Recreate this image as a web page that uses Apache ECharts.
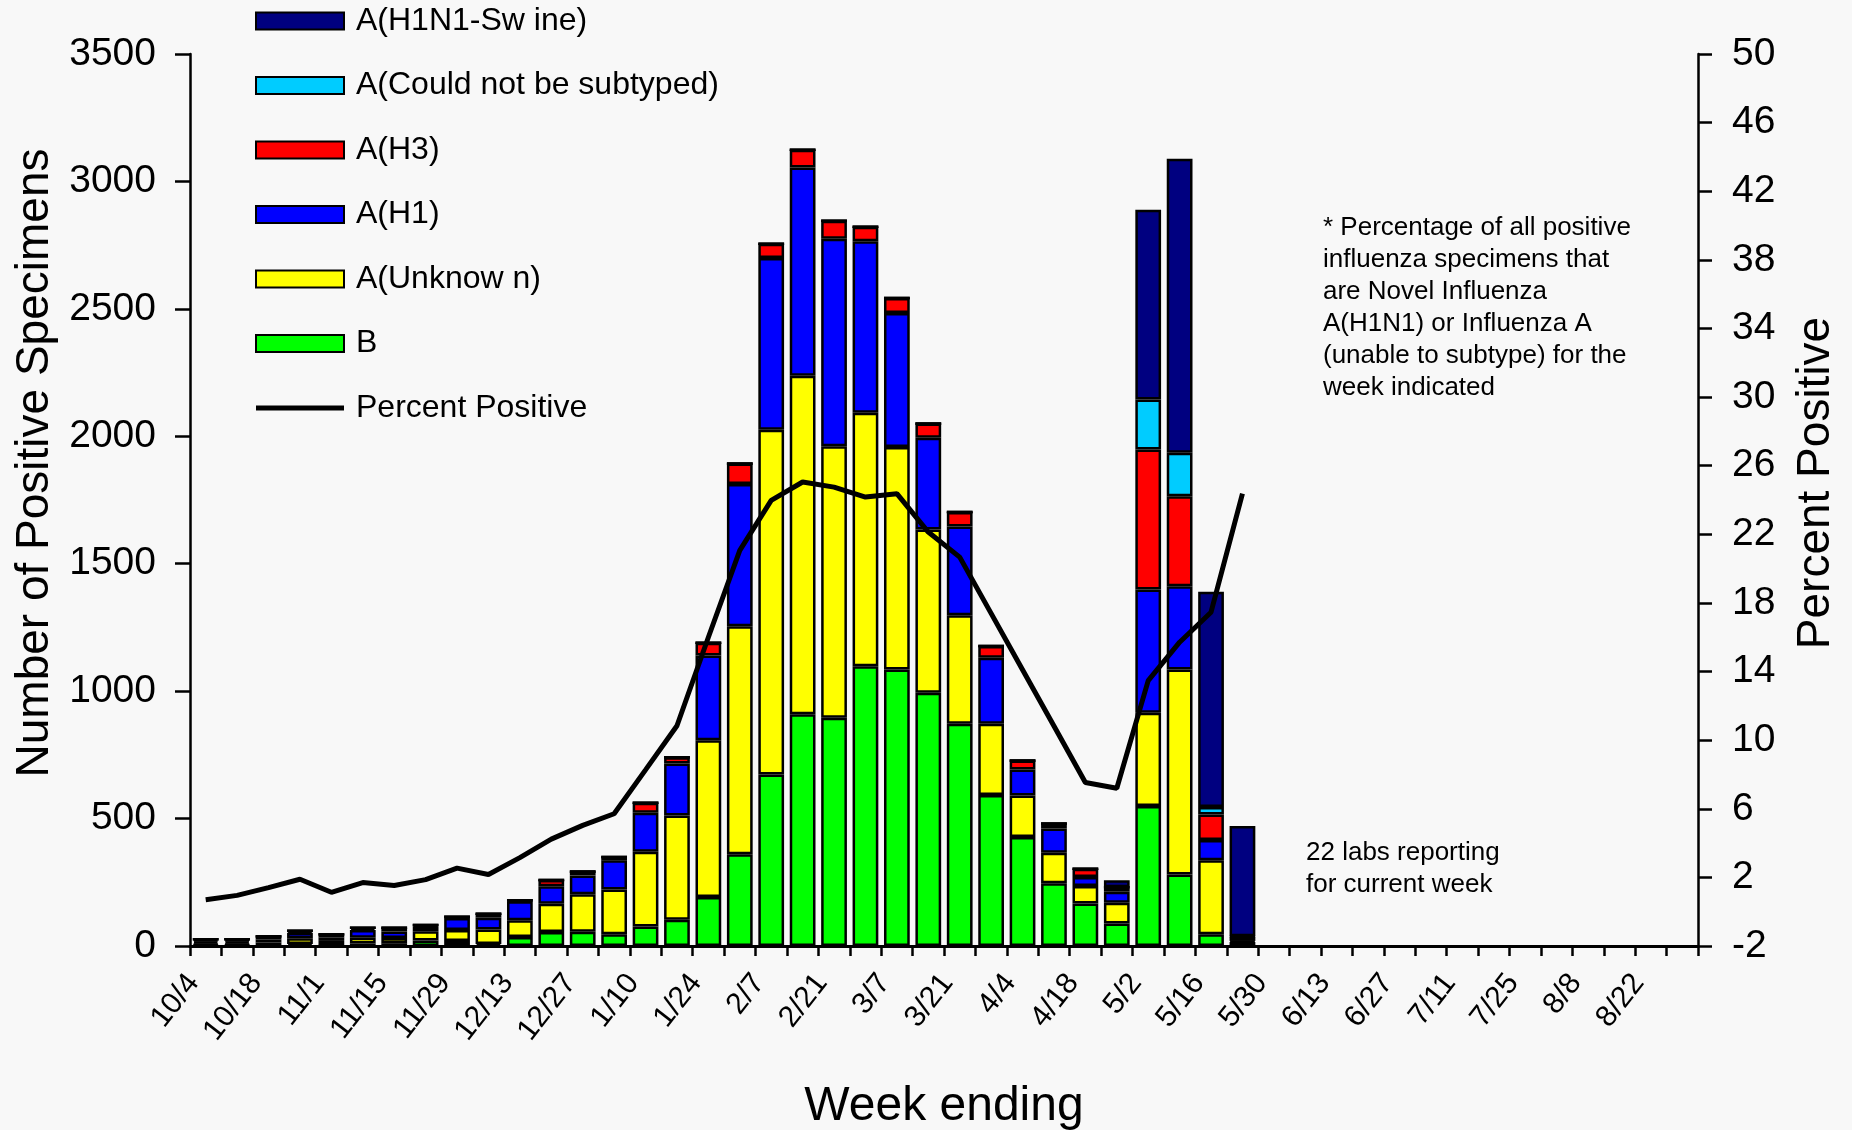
<!DOCTYPE html>
<html>
<head>
<meta charset="utf-8">
<script src="https://cdn.jsdelivr.net/npm/echarts@6/dist/echarts.min.js"></script>
<style>
html,body{margin:0;padding:0;background:#f8f8f8;}
#chart{width:1852px;height:1130px;}
</style>
</head>
<body>
<div id="chart"></div>
<script>
// Week-ending categories (tick labels shown every other week)
var weeks = ['10/4','10/11','10/18','10/25','11/1','11/8','11/15','11/22','11/29','12/6','12/13','12/20','12/27',
  '1/3','1/10','1/17','1/24','1/31','2/7','2/14','2/21','2/28','3/7','3/14','3/21','3/28','4/4','4/11','4/18','4/25',
  '5/2','5/9','5/16','5/23','5/30','6/6','6/13','6/20','6/27','7/4','7/11','7/18','7/25','8/1','8/8','8/15','8/22','8/29'];

// Series values (number of positive specimens), stacked bottom to top
var valB       = [3,3,4,8,3,10,11,22,20,8,35,55,56,46,77,103,192,360,673,909,896,1098,1085,994,872,592,428,246,167,88,549,281,46,2];
var valUnknown = [6,6,10,22,17,22,20,36,43,57,66,111,147,176,293,409,615,895,1353,1329,1065,994,873,640,426,280,163,120,68,82,366,804,290,14];
var valH1      = [9,9,12,22,14,31,26,19,47,46,75,68,74,114,153,204,333,558,674,817,814,673,526,360,348,259,102,95,36,43,484,327,80,4];
var valH3      = [8,8,12,8,12,9,15,5,5,16,4,25,15,13,39,25,50,80,55,69,71,57,59,56,57,46,35,20,32,18,549,353,100,16];
var valNoSub   = [0,0,0,0,0,0,0,0,0,0,0,0,0,0,0,0,0,0,0,0,0,0,0,0,0,0,0,0,0,0,196,170,29,2];
var valSwine   = [0,0,0,0,0,0,0,0,0,0,0,0,0,0,0,0,0,0,0,0,0,0,0,0,0,0,0,0,0,27,745,1154,845,433];

// Percent positive (right axis)
var pctPositive = [0.7,0.95,1.4,1.89,1.13,1.7,1.53,1.87,2.54,2.17,3.15,4.23,5.03,5.71,8.27,10.84,16.0,21.06,23.98,25.05,
  24.75,24.17,24.37,22.13,20.67,17.39,14.1,10.82,7.53,7.2,13.47,15.71,17.46,24.37];

// Right-axis tick values
var pctTicks = [-2,2,6,10,14,18,22,26,30,34,38,42,46,50];

var noteText = ['* Percentage of all positive','influenza specimens that','are Novel Influenza','A(H1N1) or Influenza A','(unable to subtype) for the','week indicated'];
var labsText = ['22 labs reporting','for current week'];

var FONT = '"Liberation Sans", Arial, Helvetica, sans-serif';

var chart = echarts.init(document.getElementById('chart'), null, {renderer:'canvas'});

function barSeries(name, data, color){
  return {
    name: name, type: 'bar', stack: 'total', data: data, barWidth: '82%',
    itemStyle: {color: color, borderColor: '#000', borderWidth: 2.5},
    emphasis: {disabled: true}, animation: false, z: 2
  };
}

var option = {
  backgroundColor: '#f8f8f8',
  animation: false,
  textStyle: {fontFamily: FONT, color: '#000'},
  grid: {left: 190, right: 154, top: 54, bottom: 184, containLabel: false, outerBoundsMode: 'none'},
  legend: {
    orient: 'vertical', left: 255, top: 5, padding: 0,
    itemWidth: 88, itemHeight: 17, itemGap: 32.5,
    data: [
      {name:'A(H1N1-Sw ine)', icon:'rect'},
      {name:'A(Could not be subtyped)', icon:'rect'},
      {name:'A(H3)', icon:'rect'},
      {name:'A(H1)', icon:'rect'},
      {name:'A(Unknow n)', icon:'rect'},
      {name:'B', icon:'rect'},
      {name:'Percent Positive', icon:'path://M0,0H88V5H0Z', itemStyle:{color:'#000', borderWidth:0}}
    ],
    textStyle: {fontSize: 32, color: '#000', fontFamily: FONT, padding: [0,0,0,7]},
    selectedMode: false
  },
  xAxis: {
    type: 'category', data: weeks, boundaryGap: true,
    axisLine: {show: true, lineStyle: {color: '#000', width: 3}},
    axisTick: {show: true, interval: 0, length: 10, lineStyle: {color: '#000', width: 2.5}},
    axisLabel: {interval: 1, rotate: 52, fontSize: 30, color: '#000', margin: 16, padding: [0,20,0,0], fontFamily: FONT},
    splitLine: {show: false},
    name: 'Week ending', nameLocation: 'middle', nameGap: 137,
    nameTextStyle: {fontSize: 48, color: '#000', fontFamily: FONT}
  },
  yAxis: [
    {
      type: 'value', min: 0, max: 3500, interval: 500, position: 'left',
      axisLine: {show: true, lineStyle: {color: '#000', width: 2.5}},
      axisTick: {show: true, length: 15, lineStyle: {color: '#000', width: 2.5}},
      axisLabel: {fontSize: 39, color: '#000', margin: 34, fontFamily: FONT,
        formatter: function(v){ return String(v); }},
      splitLine: {show: false},
      name: 'Number of Positive Specimens', nameLocation: 'middle', nameRotate: 90, nameGap: 132,
      nameTextStyle: {fontSize: 46, color: '#000', fontFamily: FONT, padding: [0,0,0,74]}
    },
    {
      type: 'value', min: -2, max: 50, position: 'right',
      axisLine: {show: true, lineStyle: {color: '#000', width: 2.5}},
      axisTick: {show: true, length: 14, customValues: pctTicks, lineStyle: {color: '#000', width: 2.5}},
      axisLabel: {fontSize: 39, color: '#000', margin: 34, customValues: pctTicks, fontFamily: FONT,
        formatter: function(v){ return String(v); }},
      splitLine: {show: false},
      name: 'Percent Positive', nameLocation: 'middle', nameRotate: 90, nameGap: 95,
      nameTextStyle: {fontSize: 46, color: '#000', fontFamily: FONT, padding: [0,0,0,34]}
    }
  ],
  series: [
    barSeries('B', valB, '#00ff00'),
    barSeries('A(Unknow n)', valUnknown, '#ffff00'),
    barSeries('A(H1)', valH1, '#0000ff'),
    barSeries('A(H3)', valH3, '#ff0000'),
    barSeries('A(Could not be subtyped)', valNoSub, '#00ccff'),
    barSeries('A(H1N1-Sw ine)', valSwine, '#000080'),
    {
      name: 'Percent Positive', type: 'line', yAxisIndex: 1, data: pctPositive,
      symbol: 'none', showSymbol: false, smooth: false,
      lineStyle: {color: '#000', width: 5},
      itemStyle: {color: '#000'},
      emphasis: {disabled: true}, z: 5, animation: false
    }
  ],
  graphic: [
    {
      type: 'text', left: 1323, top: 212, silent: true,
      style: {text: noteText.join('\n'), font: '26px ' + FONT, lineHeight: 32, fill: '#000'}
    },
    {
      type: 'text', left: 1306, top: 837, silent: true,
      style: {text: labsText.join('\n'), font: '26px ' + FONT, lineHeight: 32, fill: '#000'}
    }
  ]
};

chart.setOption(option);
</script>
</body>
</html>
